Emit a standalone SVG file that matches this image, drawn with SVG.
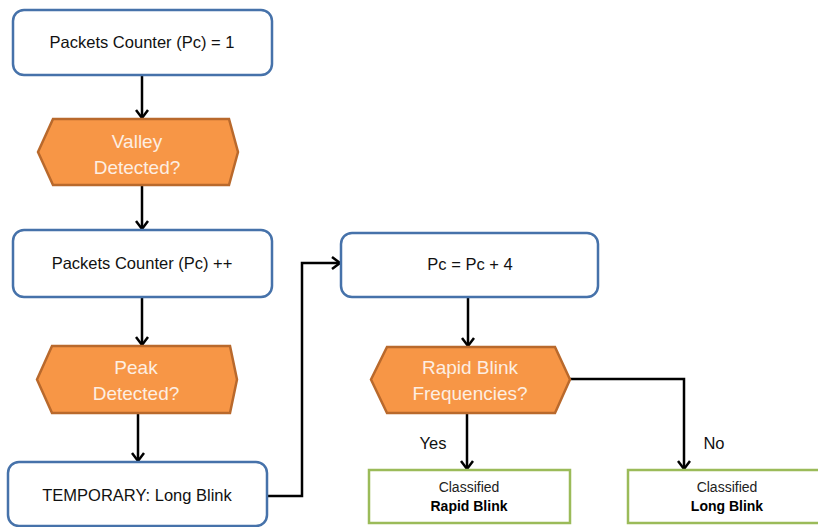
<svg xmlns="http://www.w3.org/2000/svg" width="818" height="527" viewBox="0 0 818 527">
<defs>
<style>
.box{fill:#ffffff;stroke:#4672aa;stroke-width:2.5}
.hex{fill:#f79646;stroke:#b9692c;stroke-width:2.5}
.res{fill:#ffffff;stroke:#9bbb59;stroke-width:2.5}
.t{font-family:"Liberation Sans",Arial,sans-serif;font-size:16.5px;fill:#111;text-anchor:middle}
.h{font-family:"Liberation Sans",Arial,sans-serif;font-size:19px;fill:#fdeee2;text-anchor:middle}
.s{font-family:"Liberation Sans",Arial,sans-serif;font-size:14px;fill:#222;text-anchor:middle}
.b{font-weight:bold;fill:#000}
.c{fill:none;stroke:#000;stroke-width:2.5}
</style>
<marker id="arr" markerUnits="userSpaceOnUse" markerWidth="14" markerHeight="14" refX="9" refY="6" orient="auto" overflow="visible">
<path d="M1,0 L9,6 L1,12" fill="none" stroke="#000" stroke-width="2.5"/>
</marker>
</defs>
<g id="connectors">
<path class="c" d="M142,76 V118" marker-end="url(#arr)"/>
<path class="c" d="M142,185 V229" marker-end="url(#arr)"/>
<path class="c" d="M142,297 V345" marker-end="url(#arr)"/>
<path class="c" d="M138,413 V461" marker-end="url(#arr)"/>
<path class="c" d="M267,496 H302 V263 H340" marker-end="url(#arr)"/>
<path class="c" d="M468,297 V346" marker-end="url(#arr)"/>
<path class="c" d="M467,413 V469" marker-end="url(#arr)"/>
<path class="c" d="M570,379 H684 V469" marker-end="url(#arr)"/>
<text class="t" x="433" y="449">Yes</text>
<text class="t" x="714" y="449">No</text>
</g>
<g id="n1">
<rect class="box" x="13" y="10" width="259" height="65" rx="11"/>
<text class="t" x="142" y="48">Packets Counter (Pc) = 1</text>
</g>
<g id="n2">
<polygon class="hex" points="38,152 53,119 229,119 238,152 229,185 53,185"/>
<text class="h" x="137" y="148">Valley</text>
<text class="h" x="137" y="174">Detected?</text>
</g>
<g id="n3">
<rect class="box" x="13" y="230" width="259" height="67" rx="11"/>
<text class="t" x="142" y="269">Packets Counter (Pc) ++</text>
</g>
<g id="n4">
<polygon class="hex" points="37,379.5 52,346 230,346 237,379.5 230,413 52,413"/>
<text class="h" x="136" y="374">Peak</text>
<text class="h" x="136" y="400">Detected?</text>
</g>
<g id="n5">
<rect class="box" x="8" y="462" width="259" height="64" rx="11"/>
<text class="t" x="137" y="501">TEMPORARY: Long Blink</text>
</g>
<g id="n6">
<rect class="box" x="341" y="233" width="257" height="64" rx="11"/>
<text class="t" x="470" y="270">Pc = Pc + 4</text>
</g>
<g id="n7">
<polygon class="hex" points="371,379.5 387,347 555,347 570,379.5 555,413 387,413"/>
<text class="h" x="470" y="374">Rapid Blink</text>
<text class="h" x="470" y="400">Frequencies?</text>
</g>
<g id="n8">
<rect class="res" x="369" y="470" width="201" height="53"/>
<text class="s" x="469" y="492">Classified</text>
<text class="s b" x="469" y="511">Rapid Blink</text>
</g>
<g id="n9">
<rect class="res" x="628" y="470" width="201" height="53"/>
<text class="s" x="727" y="492">Classified</text>
<text class="s b" x="727" y="511">Long Blink</text>
</g>
</svg>
